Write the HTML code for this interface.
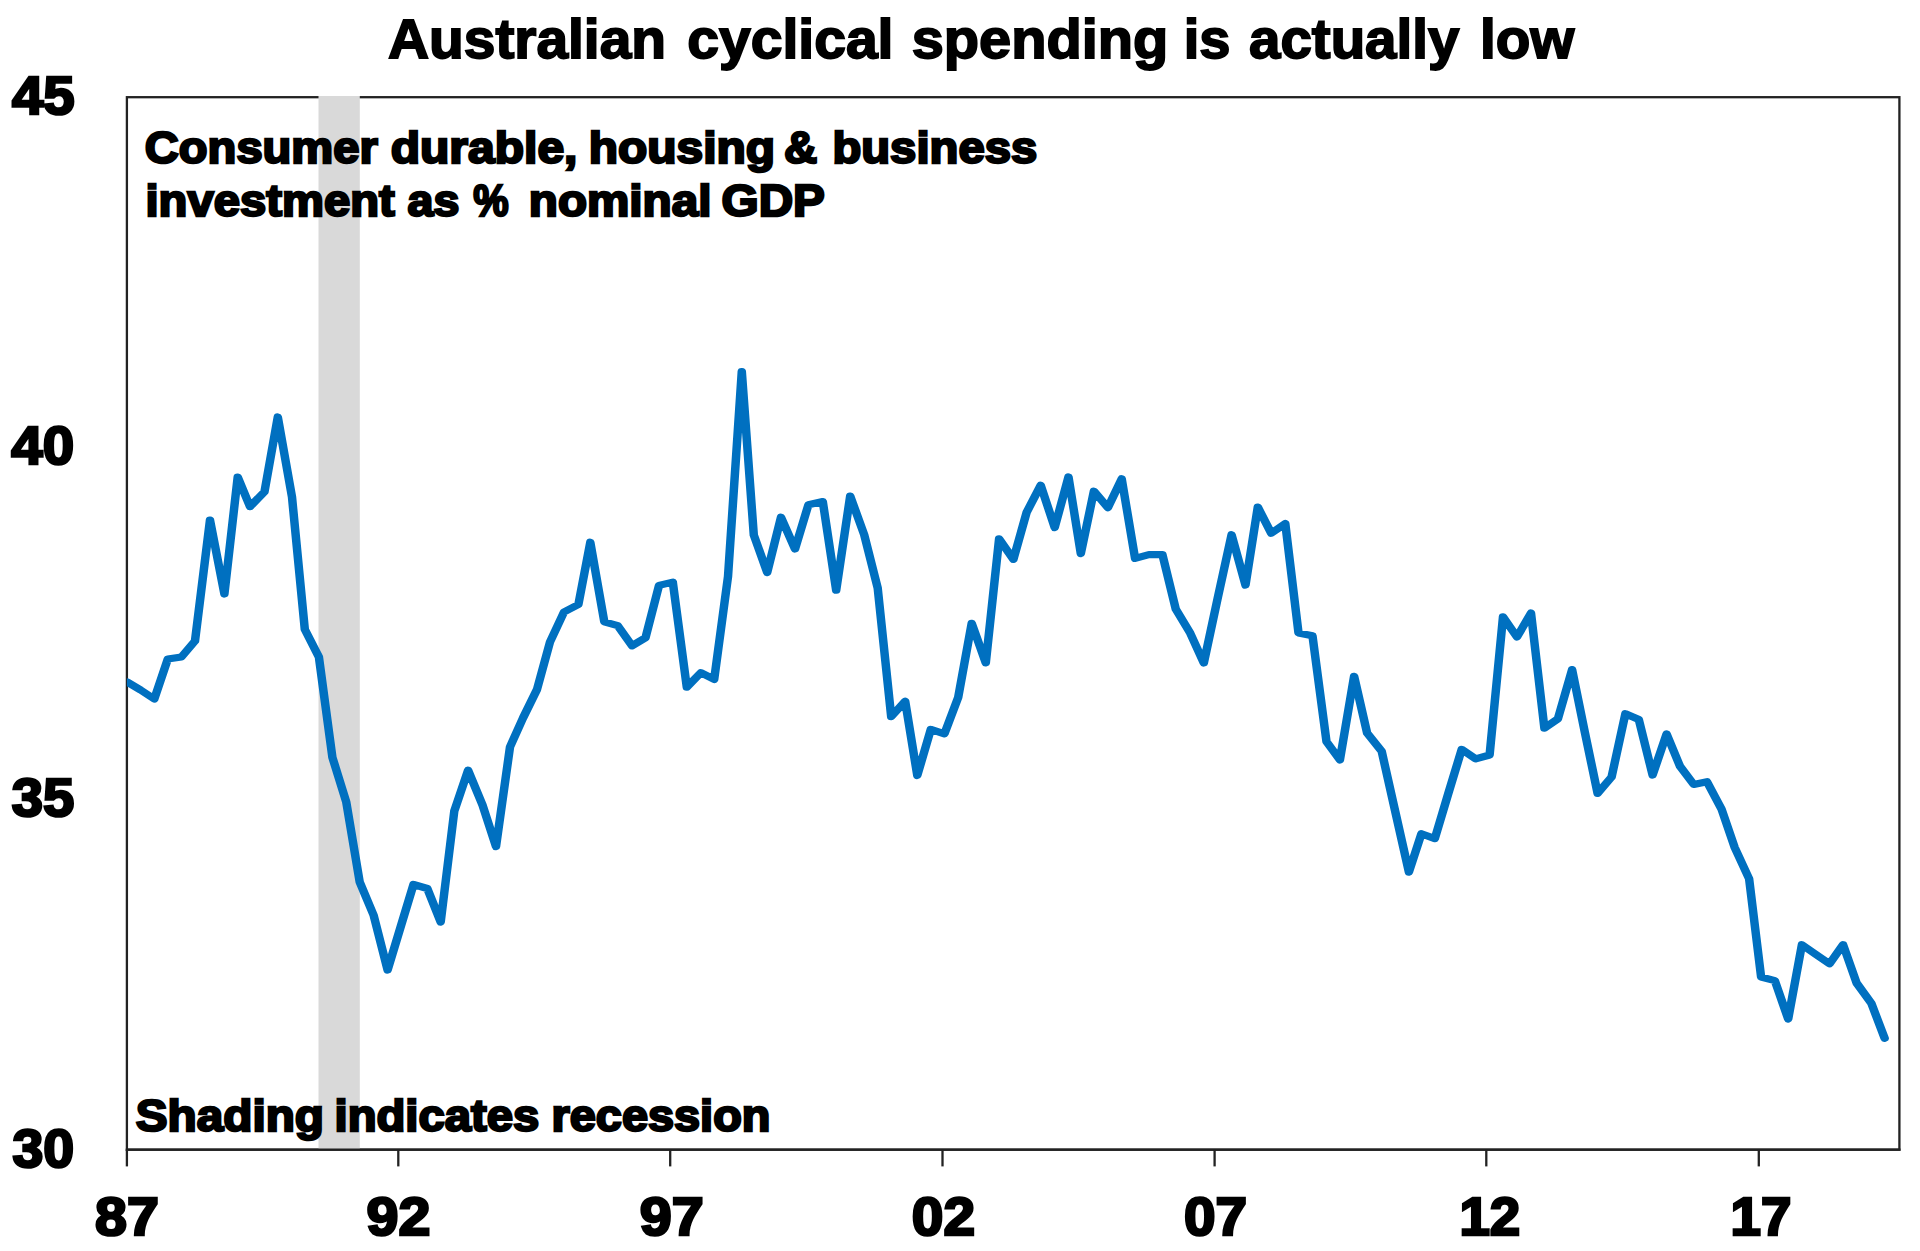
<!DOCTYPE html>
<html><head><meta charset="utf-8"><title>Australian cyclical spending is actually low</title>
<style>
html,body{margin:0;padding:0;background:#fff;}
body{width:1920px;height:1251px;overflow:hidden;}
svg{display:block;}
text{font-family:"Liberation Sans",Arial,sans-serif;font-weight:bold;fill:#000;stroke:#000;stroke-linejoin:miter;stroke-miterlimit:2.5;}
.ttl{font-size:55.4px;stroke-width:1.8px;}
.lb{font-size:44.5px;stroke-width:2.4px;}
.ax{font-size:54.5px;stroke-width:2.6px;}
</style></head><body>
<svg width="1920" height="1251" viewBox="0 0 1920 1251">
<rect width="1920" height="1251" fill="#fff"/>
<rect x="126.9" y="97.2" width="1772.5" height="1052.5" fill="none" stroke="#222" stroke-width="2.3"/>
<rect x="318.5" y="96" width="41.3" height="1053" fill="#d9d9d9"/>
<line x1="125.75" y1="1149.7" x2="1900.55" y2="1149.7" stroke="#222" stroke-width="2.3"/>
<line x1="126.9" y1="1149.7" x2="126.9" y2="1166.4" stroke="#222" stroke-width="2.3"/><line x1="398.3" y1="1149.7" x2="398.3" y2="1166.4" stroke="#222" stroke-width="2.3"/><line x1="670.2" y1="1149.7" x2="670.2" y2="1166.4" stroke="#222" stroke-width="2.3"/><line x1="942.5" y1="1149.7" x2="942.5" y2="1166.4" stroke="#222" stroke-width="2.3"/><line x1="1214.6" y1="1149.7" x2="1214.6" y2="1166.4" stroke="#222" stroke-width="2.3"/><line x1="1486.3" y1="1149.7" x2="1486.3" y2="1166.4" stroke="#222" stroke-width="2.3"/><line x1="1758.8" y1="1149.7" x2="1758.8" y2="1166.4" stroke="#222" stroke-width="2.3"/>
<text y="58.3" class="ttl"><tspan x="388.00" textLength="278.00" lengthAdjust="spacingAndGlyphs">Australian</tspan> <tspan x="687.30" textLength="206.18" lengthAdjust="spacingAndGlyphs">cyclical</tspan> <tspan x="911.70" textLength="256.64" lengthAdjust="spacingAndGlyphs">spending</tspan> <tspan x="1183.70" textLength="46.69" lengthAdjust="spacingAndGlyphs">is</tspan> <tspan x="1249.00" textLength="210.34" lengthAdjust="spacingAndGlyphs">actually</tspan> <tspan x="1480.00" textLength="94.43" lengthAdjust="spacingAndGlyphs">low</tspan></text>
<text y="163" class="lb"><tspan x="144.80" textLength="233.02" lengthAdjust="spacingAndGlyphs">Consumer</tspan> <tspan x="390.70" textLength="186.73" lengthAdjust="spacingAndGlyphs">durable,</tspan> <tspan x="588.80" textLength="186.33" lengthAdjust="spacingAndGlyphs">housing</tspan> <tspan x="784.00" textLength="33.28" lengthAdjust="spacingAndGlyphs">&amp;</tspan> <tspan x="832.40" textLength="204.83" lengthAdjust="spacingAndGlyphs">business</tspan></text>
<text y="216" class="lb"><tspan x="145.50" textLength="249.20" lengthAdjust="spacingAndGlyphs">investment</tspan> <tspan x="407.50" textLength="51.85" lengthAdjust="spacingAndGlyphs">as</tspan> <tspan x="473.30" textLength="35.40" lengthAdjust="spacingAndGlyphs">%</tspan> <tspan x="528.80" textLength="182.62" lengthAdjust="spacingAndGlyphs">nominal</tspan> <tspan x="721.60" textLength="103.31" lengthAdjust="spacingAndGlyphs">GDP</tspan></text>
<text y="1130.8" class="lb"><tspan x="135.80" textLength="188.22" lengthAdjust="spacingAndGlyphs">Shading</tspan> <tspan x="334.50" textLength="204.83" lengthAdjust="spacingAndGlyphs">indicates</tspan> <tspan x="551.50" textLength="218.93" lengthAdjust="spacingAndGlyphs">recession</tspan></text>
<text y="114.3" class="ax"><tspan x="12.00" textLength="62.75" lengthAdjust="spacingAndGlyphs">45</tspan></text>
<text y="464.4" class="ax"><tspan x="11.30" textLength="62.74" lengthAdjust="spacingAndGlyphs">40</tspan></text>
<text y="815.7" class="ax"><tspan x="11.80" textLength="62.54" lengthAdjust="spacingAndGlyphs">35</tspan></text>
<text y="1166.8" class="ax"><tspan x="12.50" textLength="61.69" lengthAdjust="spacingAndGlyphs">30</tspan></text>
<text y="1235.2" class="ax"><tspan x="95.00" textLength="63.86" lengthAdjust="spacingAndGlyphs">87</tspan></text>
<text y="1235.2" class="ax"><tspan x="366.50" textLength="63.86" lengthAdjust="spacingAndGlyphs">92</tspan></text>
<text y="1235.2" class="ax"><tspan x="639.80" textLength="63.93" lengthAdjust="spacingAndGlyphs">97</tspan></text>
<text y="1235.2" class="ax"><tspan x="911.80" textLength="63.21" lengthAdjust="spacingAndGlyphs">02</tspan></text>
<text y="1235.2" class="ax"><tspan x="1184.00" textLength="63.04" lengthAdjust="spacingAndGlyphs">07</tspan></text>
<text y="1235.2" class="ax"><tspan x="1459.40" textLength="60.85" lengthAdjust="spacingAndGlyphs">12</tspan></text>
<text y="1235.2" class="ax"><tspan x="1730.50" textLength="60.85" lengthAdjust="spacingAndGlyphs">17</tspan></text>
<clipPath id="pc"><rect x="126.9" y="97" width="1772.5" height="1053"/></clipPath>
<g clip-path="url(#pc)"><g transform="scale(1.18,1)"><polyline points="107.80,682.0 119.15,690.0 130.76,699.0 142.20,659.0 153.73,657.0 165.25,641.0 177.97,520.0 190.17,594.0 201.44,477.0 211.86,506.6 224.15,491.8 235.42,417.0 247.46,497.0 258.31,629.4 270.25,657.0 281.69,757.3 293.47,802.2 304.83,882.0 316.69,915.4 328.47,970.0 339.49,927.0 350.42,884.5 362.12,888.5 373.47,922.0 385.00,811.0 396.69,770.3 408.90,805.0 420.34,846.6 432.20,747.0 443.22,718.0 455.08,689.5 466.10,642.0 477.97,612.0 490.17,604.5 500.25,542.2 512.12,621.8 523.47,625.7 535.68,645.8 547.03,637.7 558.47,585.4 570.17,582.1 582.03,687.1 593.90,672.7 605.25,679.4 616.95,576.7 628.64,371.5 638.81,535.0 650.17,572.5 661.86,517.2 673.73,549.0 685.08,504.8 697.29,501.6 708.64,590.2 720.51,496.0 732.37,534.8 743.81,588.0 755.25,716.6 767.12,701.3 777.37,775.5 788.81,729.4 800.34,733.8 812.03,697.4 823.47,623.3 835.42,662.9 846.69,538.8 858.81,559.3 870.08,512.2 881.95,485.3 893.81,527.5 905.51,476.9 915.93,553.6 927.03,491.2 938.90,507.6 950.59,478.8 961.95,558.4 973.64,554.6 985.08,554.6 996.44,609.2 1008.31,632.3 1020.17,663.0 1031.86,598.7 1043.73,534.7 1055.51,585.1 1065.93,507.0 1077.29,533.2 1089.24,523.6 1100.42,632.9 1112.29,635.8 1124.15,741.7 1135.51,759.9 1147.54,676.3 1158.56,733.0 1170.93,751.3 1182.46,811.7 1193.98,872.1 1204.58,833.8 1215.93,838.6 1227.37,793.5 1238.73,749.4 1250.59,758.9 1262.37,755.0 1273.73,616.9 1285.59,637.0 1297.46,613.0 1308.81,728.1 1320.25,718.9 1332.29,669.6 1342.97,731.6 1353.90,793.4 1365.76,777.0 1377.46,713.7 1388.81,719.5 1400.51,775.1 1412.37,733.9 1423.73,766.3 1435.34,784.4 1446.61,781.7 1458.98,809.2 1470.08,847.5 1482.29,878.7 1492.46,977.0 1504.07,980.6 1515.42,1019.0 1527.03,944.7 1538.64,954.2 1550.42,963.8 1561.95,944.7 1573.39,983.0 1585.93,1003.4 1597.12,1038.2" fill="none" stroke="#0070c0" stroke-width="7.2" stroke-linejoin="round" stroke-linecap="round"/></g></g>
</svg>
</body></html>
